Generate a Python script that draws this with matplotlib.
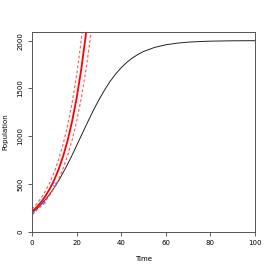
import matplotlib
matplotlib.use("Agg")
import matplotlib.pyplot as plt

# logistic curve (black)
t_logis = [0, 2.5, 5, 7.5, 10, 12.5, 15, 17.5, 20, 22.5, 25, 27.5, 30, 32.5, 35,
           37.5, 40, 42.5, 45, 47.5, 50, 55, 60, 65, 70, 75, 80, 90, 100]
n_logis = [200, 249, 310, 381, 464, 558, 665, 779, 902, 1027, 1150, 1270, 1381, 1482, 1573,
           1650, 1717, 1772, 1818, 1855, 1886, 1929, 1956, 1973, 1984, 1990, 1994, 1998, 1999]

# exponential fit (red) and its bands (dashed)
t_exp = [0, 2, 4, 6, 8, 10, 12, 14, 16, 18, 20, 22, 24, 26, 28]
n_fit = [213, 257, 310, 374, 452, 545, 658, 794, 958, 1157, 1396, 1685, 2033, 2454, 2960]
n_upper = [240, 291, 352, 427, 517, 627, 760, 920, 1115, 1351, 1637, 1984, 2403, 2900, 3500]
n_lower = [185, 222, 267, 320, 385, 462, 555, 666, 800, 960, 1153, 1385, 1663, 1997, 2398]

# observed points (blue)
t_obs = [0, 5, 10]
n_obs = [206, 311, 500]

fig = plt.figure(figsize=(2.71, 2.71), dpi=100)
ax = fig.add_axes([0.118, 0.144, 0.823, 0.738])

ax.plot(t_logis, n_logis, color='#222222', lw=0.7)
ax.plot(t_exp, n_fit, color='red', lw=1.3)
ax.plot(t_exp, n_upper, color='#ff5555', lw=0.8, linestyle=(0, (2.5, 2)))
ax.plot(t_exp, n_lower, color='#ff5555', lw=0.8, linestyle=(0, (2.5, 2)))
ax.plot(t_obs, n_obs, 'o', mfc='none', mec='#5555ff', ms=2.5, mew=0.5)

ax.set_xlim(0, 100)
ax.set_ylim(0, 2090)
ax.set_xticks([0, 20, 40, 60, 80, 100])
ax.set_yticks([0, 500, 1000, 1500, 2000])
for lab in ax.get_yticklabels():
    lab.set_rotation(90)
    lab.set_va('center')
ax.tick_params(labelsize=5, length=3, width=0.6, color='#444444', pad=3)
for s in ax.spines.values():
    s.set_linewidth(0.7)
    s.set_color('#555555')

ax.set_xlabel('Time', fontsize=5, labelpad=7)
ax.set_ylabel('Population', fontsize=5, labelpad=6.5)

fig.savefig('out.png', dpi=100)
